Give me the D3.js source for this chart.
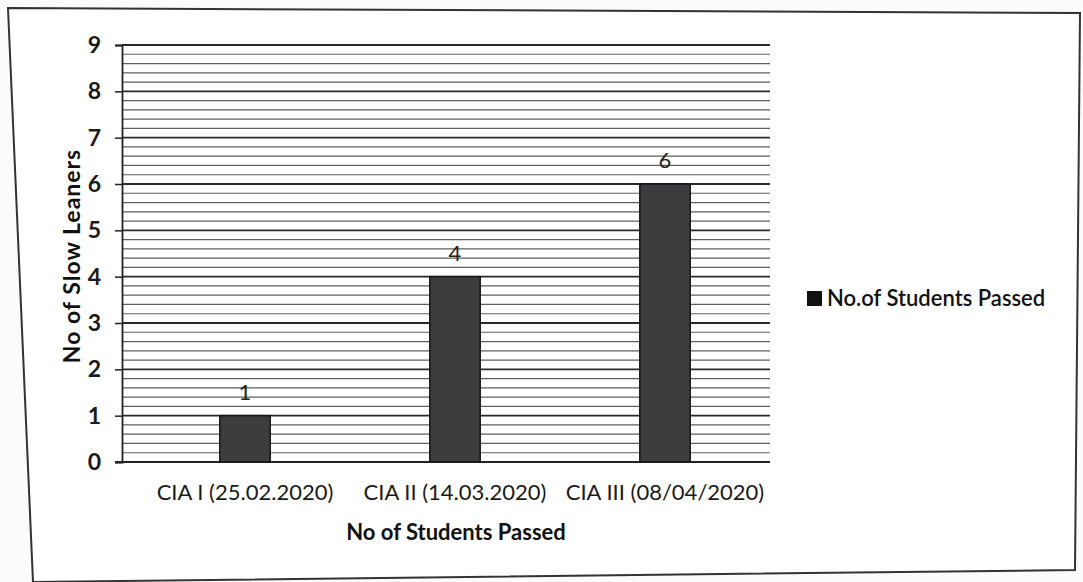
<!DOCTYPE html>
<html>
<head>
<meta charset="utf-8">
<script src="https://cdn.jsdelivr.net/npm/d3@7"></script>
<style>
  html, body { margin: 0; padding: 0; background: #fbfbfb; }
  svg { display: block; font-family: Lato, "Open Sans", sans-serif; }
</style>
</head>
<body>
<svg id="chart" width="1083" height="582"></svg>
<script>
const categories = ["CIA I (25.02.2020)", "CIA II (14.03.2020)", "CIA III (08/04/2020)"];
const passedValues = [1, 4, 6];
const yTickValues = [0, 1, 2, 3, 4, 5, 6, 7, 8, 9];
const seriesName = "No.of Students Passed";
const xTitle = "No of Students Passed";
const yTitle = "No of Slow Leaners";

const svg = d3.select("#chart");

// outer chart border (photo is slightly skewed)
svg.append("path")
  .attr("d", "M8,8 L1080,13 L1075,570 L33,582 Z")
  .attr("fill", "#ffffff")
  .attr("stroke", "#333")
  .attr("stroke-width", 2);

const plotLeft = 122, plotRight = 770, plotTop = 45, plotBottom = 462;

const y = d3.scaleLinear().domain([0, 9]).range([plotBottom, plotTop]);
const x = d3.scaleBand().domain(categories).range([140, 770])
  .paddingInner(0.76).paddingOuter(0.38);

// minor gridlines every 0.2
const minor = d3.range(0, 45).map(i => i * 0.2).filter(v => !yTickValues.includes(Math.round(v * 10) / 10));
svg.append("g").selectAll("line").data(minor).join("line")
  .attr("x1", plotLeft).attr("x2", plotRight)
  .attr("y1", d => y(d)).attr("y2", d => y(d))
  .attr("stroke", "#5e5e5e").attr("stroke-width", 1.2);

// major gridlines
svg.append("g").selectAll("line").data(yTickValues.filter(v => v > 0)).join("line")
  .attr("x1", plotLeft).attr("x2", plotRight)
  .attr("y1", d => y(d)).attr("y2", d => y(d))
  .attr("stroke", "#2a2a2a").attr("stroke-width", 1.8);

// y axis
const yAxis = d3.axisLeft(y).tickValues(yTickValues).tickSize(7).tickPadding(14).tickFormat(d3.format("d"));
const gy = svg.append("g").attr("transform", `translate(${plotLeft},0)`).call(yAxis);
gy.select(".domain").attr("stroke", "#222").attr("stroke-width", 1.8);
gy.selectAll(".tick line").attr("stroke", "#222").attr("stroke-width", 1.5);
gy.selectAll(".tick text").attr("font-size", 23).attr("font-weight", 700)
  .attr("fill", "#1a1a1a").attr("font-family", "Lato, sans-serif");

// x axis labels
const xAxis = d3.axisBottom(x).tickSize(0).tickPadding(22);
const gx = svg.append("g").attr("transform", `translate(0,${plotBottom})`).call(xAxis);
gx.select(".domain").remove();
svg.append("line").attr("x1", plotLeft - 7).attr("x2", plotRight)
  .attr("y1", plotBottom).attr("y2", plotBottom)
  .attr("stroke", "#222").attr("stroke-width", 2);
gx.selectAll(".tick text").attr("font-size", 22).attr("fill", "#1a1a1a")
  .attr("font-family", "Lato, sans-serif");

// bars
svg.append("g").selectAll("rect").data(passedValues).join("rect")
  .attr("x", (d, i) => x(categories[i]))
  .attr("y", d => y(d))
  .attr("width", x.bandwidth())
  .attr("height", d => y(0) - y(d))
  .attr("fill", "#3d3d3f")
  .attr("stroke", "#151515").attr("stroke-width", 1.5);

// value labels
svg.append("g").selectAll("text").data(passedValues).join("text")
  .attr("x", (d, i) => x(categories[i]) + x.bandwidth() / 2)
  .attr("y", d => y(d) - 16)
  .attr("text-anchor", "middle")
  .attr("font-size", 22).attr("fill", "#222")
  .text(d => d);

// axis titles
svg.append("text").attr("x", 456).attr("y", 540)
  .attr("text-anchor", "middle").attr("font-size", 22).attr("font-weight", 700)
  .attr("fill", "#111").text(xTitle);

svg.append("text").attr("transform", "translate(80,256) rotate(-90)")
  .attr("text-anchor", "middle").attr("font-size", 23).attr("font-weight", 700)
  .attr("letter-spacing", 1)
  .attr("fill", "#111").text(yTitle);

// legend
const lg = svg.append("g").attr("transform", "translate(807,291)");
lg.append("rect").attr("width", 15).attr("height", 15).attr("fill", "#111");
lg.append("text").attr("x", 20).attr("y", 15).attr("font-size", 22).attr("font-weight", 600)
  .attr("fill", "#111").text(seriesName);
</script>
</body>
</html>
